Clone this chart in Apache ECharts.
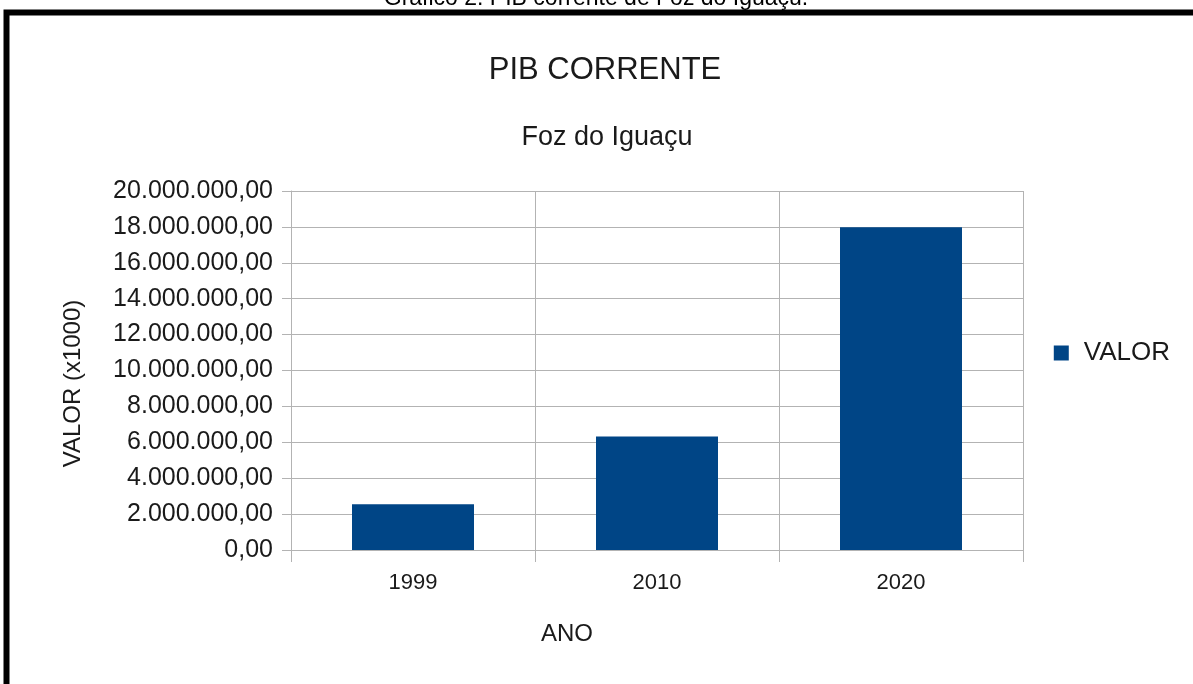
<!DOCTYPE html>
<html>
<head>
<meta charset="utf-8">
<script src="https://cdn.jsdelivr.net/npm/echarts@6/dist/echarts.min.js"></script>
<style>
html,body{margin:0;padding:0;background:#fff;}
#chart{width:1193px;height:684px;}
</style>
</head>
<body>
<div id="chart"></div>
<script>
const categories = ['1999', '2010', '2020'];
const seriesName = 'VALOR';
const values = [2550000, 6320000, 17980000];
const yTicks = { min: 0, max: 20000000, interval: 2000000 };
const captionText = 'Gráfico 2: PIB corrente de Foz do Iguaçu.';
const titleText = 'PIB CORRENTE';
const subtitleText = 'Foz do Iguaçu';
const xAxisName = 'ANO';
const yAxisName = 'VALOR (x1000)';

function fmtBR(v) {
  const parts = Math.round(v).toString().replace(/\B(?=(\d{3})+(?!\d))/g, '.');
  return parts + ',00';
}

const font = '"Liberation Sans", Arial, sans-serif';
const gridColor = '#b3b3b3';
const textColor = '#1a1a1a';

const chart = echarts.init(document.getElementById('chart'), null, { renderer: 'canvas' });
chart.setOption({
  backgroundColor: '#ffffff',
  animation: false,
  textStyle: { fontFamily: font },
  legend: {
    data: [seriesName],
    right: 18, top: 335,
    icon: 'rect', itemWidth: 15, itemHeight: 15, itemGap: 10,
    textStyle: { fontFamily: font, fontSize: 26, color: textColor, padding: [0, 0, 0, 10] }
  },
  grid: { left: 291, right: 170, top: 191, bottom: 134, containLabel: false },
  xAxis: {
    type: 'category',
    data: categories,
    boundaryGap: true,
    name: xAxisName,
    nameLocation: 'middle',
    nameGap: 72,
    nameTextStyle: { fontFamily: font, fontSize: 24, color: textColor, padding: [0, 180, 0, 0] },
    axisLine: { show: true, lineStyle: { color: gridColor, width: 1 } },
    axisTick: { show: true, length: 12, inside: false, lineStyle: { color: gridColor } },
    axisLabel: { margin: 22, fontFamily: font, fontSize: 22, color: textColor },
    splitLine: { show: true, lineStyle: { color: gridColor, width: 1 } }
  },
  yAxis: {
    type: 'value',
    min: yTicks.min, max: yTicks.max, interval: yTicks.interval,
    name: yAxisName,
    nameLocation: 'middle',
    nameRotate: 90,
    nameGap: 206,
    nameTextStyle: { fontFamily: font, fontSize: 24, color: textColor, padding: [0, 26, 0, 0] },
    axisLine: { show: true, lineStyle: { color: gridColor, width: 1 } },
    axisTick: { show: true, length: 9, lineStyle: { color: gridColor } },
    axisLabel: { margin: 18, fontFamily: font, fontSize: 25, color: textColor, formatter: fmtBR },
    splitLine: { show: true, lineStyle: { color: gridColor, width: 1 } }
  },
  series: [{
    name: seriesName,
    type: 'bar',
    data: values,
    barWidth: '50%',
    itemStyle: { color: '#004586' }
  }],
  graphic: [
    { type: 'text', x: 596, y: -1, style: { text: captionText, font: '23px ' + font, fill: '#000', align: 'center', verticalAlign: 'middle' }, silent: true },
    { type: 'text', x: 605, y: 70, style: { text: titleText, font: '31px ' + font, fill: textColor, align: 'center', verticalAlign: 'middle' }, silent: true },
    { type: 'text', x: 607, y: 138, style: { text: subtitleText, font: '27px ' + font, fill: textColor, align: 'center', verticalAlign: 'middle' }, silent: true },
    { type: 'rect', shape: { x: 6.5, y: 12.5, width: 1300, height: 800 }, style: { fill: 'none', stroke: '#000', lineWidth: 6 }, silent: true }
  ]
});
</script>
</body>
</html>
